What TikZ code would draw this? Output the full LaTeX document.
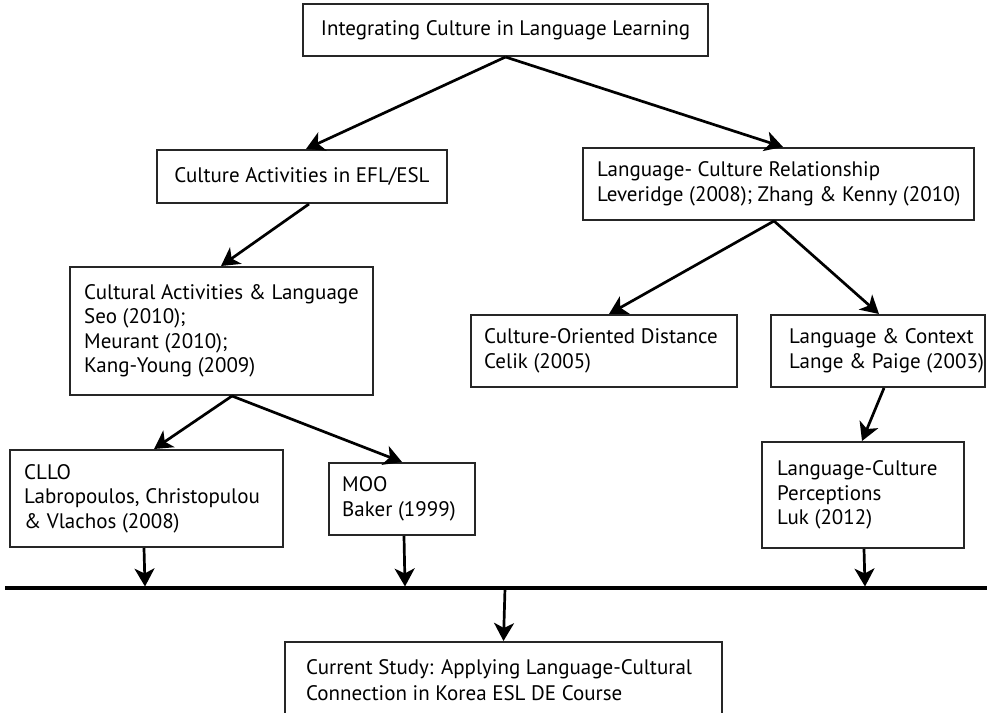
\documentclass[tikz,border=0pt]{standalone}
\usepackage{fontspec}
\setmainfont{PT Sans}
\usetikzlibrary{arrows.meta,calc}
\begin{document}
\begin{tikzpicture}[x=1pt,y=-1pt,
  frame/.style={draw=black!85, line width=2pt, inner sep=0pt},
  label font/.style={font=\fontsize{21}{24.5}\selectfont},
  words/.style={inner sep=0pt, align=left, anchor=west, label font},
  link/.style={line width=2.7pt, draw=black, -{Stealth[length=18pt,width=20pt,inset=5pt]}},
]
\useasboundingbox (0,0) rectangle (987,712);

% boxes
\node[frame, minimum width=405pt, minimum height=52pt, label font] (root) at (505.5,30) {Integrating Culture in Language Learning};
\node[frame, minimum width=290pt, minimum height=53pt, label font] (cae) at (302,176.5) {Culture Activities in EFL/ESL};

\node[frame, minimum width=391pt, minimum height=72pt] (lcr) at (778.5,184) {};
\node[words] (lcr-t) at ($(lcr.west)+(15,0)$) {Language- Culture Relationship\\Leveridge (2008); Zhang \& Kenny (2010)};

\node[frame, minimum width=303pt, minimum height=128pt] (cal) at (221.5,331) {};
\node[words] (cal-t) at ($(cal.west)+(15,0)$) {Cultural Activities \& Language\\Seo (2010);\\Meurant (2010);\\Kang-Young (2009)};

\node[frame, minimum width=266pt, minimum height=72pt] (cod) at (604,351) {};
\node[words] (cod-t) at ($(cod.west)+(14,0)$) {Culture-Oriented Distance\\Celik (2005)};

\node[frame, minimum width=214pt, minimum height=72pt] (lc) at (878,351) {};
\node[words] (lc-t) at ($(lc.west)+(19,0)$) {Language \& Context\\Lange \& Paige (2003)};

\node[frame, minimum width=202pt, minimum height=106pt] (lcp) at (863,495) {};
\node[words] (lcp-t) at ($(lcp.west)+(16,0)$) {Language-Culture\\Perceptions\\Luk (2012)};

\node[frame, minimum width=273pt, minimum height=97pt] (cllo) at (146.5,498.5) {};
\node[words] (cllo-t) at ($(cllo.west)+(15,0)$) {CLLO\\Labropoulos, Christopulou\\\& Vlachos (2008)};

\node[frame, minimum width=146pt, minimum height=72pt] (moo) at (402,499) {};
\node[words] (moo-t) at ($(moo.west)+(14,0)$) {MOO\\Baker (1999)};

\node[frame, minimum width=437pt, minimum height=80pt] (cur) at (503.5,682) {};
\node[words, font=\fontsize{21}{26}\selectfont] (cur-t) at ($(cur.west)+(22,-2)$) {Current Study: Applying Language-Cultural\\Connection in Korea ESL DE Course};

% collecting line
\coordinate (busL) at (5,588);
\coordinate (busR) at (987,588);
\coordinate (bus1) at (145,586.5);
\coordinate (bus2) at (405,586.5);
\coordinate (bus3) at (865,586.5);
\coordinate (busC) at (505,588);
\draw[line width=3.2pt] (busL) -- (busR);

% connectors
\draw[link] (root.south) -- ($(cae.north west)+(150,0)$);
\draw[link] (root.south) -- ($(lcr.north west)+(201,0)$);
\draw[link] ($(cae.south west)+(153,0)$) -- ($(cal.north west)+(152,0)$);
\draw[link] ($(cal.south west)+(163,0)$) -- ($(cllo.north west)+(145,0)$);
\draw[link] ($(cal.south west)+(163,0)$) -- ($(moo.north west)+(74,0)$);
\draw[link] ($(lcr.south west)+(192,0)$) -- ($(cod.north west)+(139,0)$);
\draw[link] ($(lcr.south west)+(192,0)$) -- ($(lc.north west)+(109,0)$);
\draw[link] ($(lc.south west)+(114,0)$) -- ($(lcp.north west)+(101,0)$);
\draw[link] ($(cllo.south west)+(135,0)$) -- (bus1);
\draw[link] ($(moo.south west)+(76,0)$) -- (bus2);
\draw[link] ($(lcp.south west)+(103,0)$) -- (bus3);
\draw[link] (busC) -- (cur.north);
\end{tikzpicture}
\end{document}
